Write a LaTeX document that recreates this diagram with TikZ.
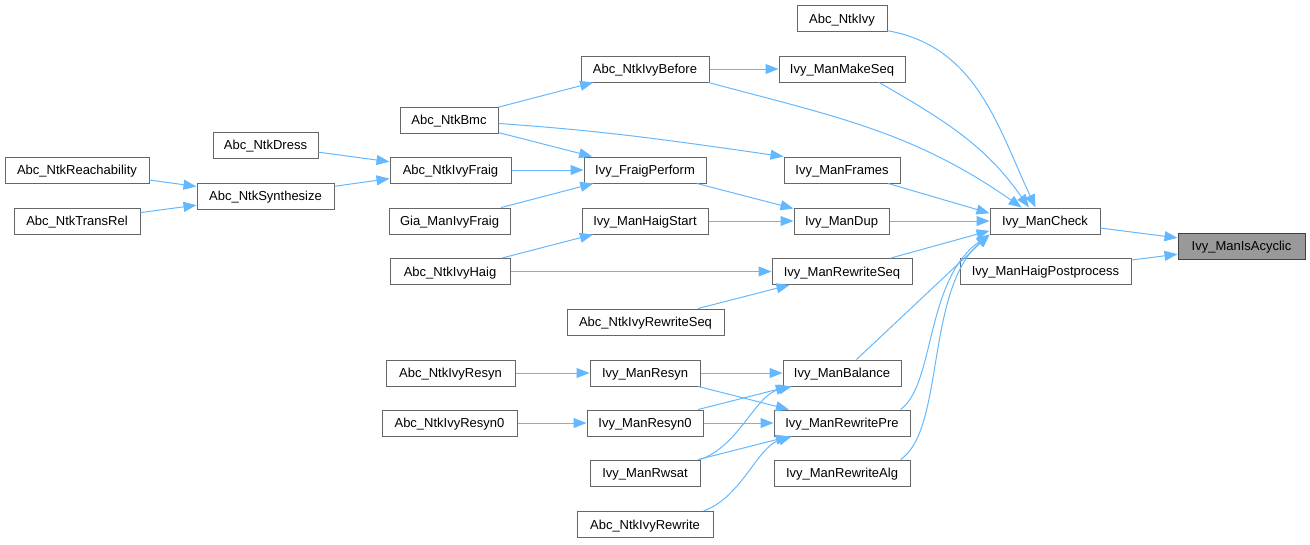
\documentclass[tikz,border=0pt]{standalone}
\usepackage{fontspec}
\setmainfont{Liberation Sans}
\usetikzlibrary{arrows.meta,calc}
\definecolor{callblue}{RGB}{99,184,255}
\definecolor{boxgray}{RGB}{102,102,102}
\definecolor{selgray}{RGB}{153,153,153}

\begin{document}
\begin{tikzpicture}[x=1pt, y=-1pt,
  fn/.style={draw=boxgray, fill=white, line width=1pt, minimum height=26pt,
    inner sep=0pt, text depth=0pt, font=\fontsize{13}{15}\selectfont},
  call/.style={draw=callblue, line width=1pt, -{Triangle[length=13pt,width=10pt]}}]

\useasboundingbox (0,0) rectangle (1310,544);

% Functions (name/x/y/width/label)
\foreach \n/\x/\y/\w/\t in {
  ivy/842/18.5/90/Abc\_NtkIvy,
  before/645/69/128/Abc\_NtkIvyBefore,
  makeseq/842/69/126/Ivy\_ManMakeSeq,
  bmc/449/120/98/Abc\_NtkBmc,
  dress/265.5/145/105/Abc\_NtkDress,
  ivyfraig/450.5/170/121/Abc\_NtkIvyFraig,
  fraigperf/645/170/122/Ivy\_FraigPerform,
  frames/842/170/116/Ivy\_ManFrames,
  reach/77/170/144/Abc\_NtkReachability,
  synth/265.5/196/137/Abc\_NtkSynthesize,
  transrel/77/221/126/Abc\_NtkTransRel,
  giafraig/449.5/221/121/Gia\_ManIvyFraig,
  haigstart/645/221/126/Ivy\_ManHaigStart,
  dup/841.5/221/95/Ivy\_ManDup,
  check/1045/221/110/Ivy\_ManCheck,
  haigpost/1045.5/271/171/Ivy\_ManHaigPostprocess,
  ivyhaig/450/271.5/120/Abc\_NtkIvyHaig,
  rewseq/842/271.5/140/Ivy\_ManRewriteSeq,
  ivyrewseq/645.5/322/157/Abc\_NtkIvyRewriteSeq,
  ivyresyn/450.5/373/129/Abc\_NtkIvyResyn,
  resyn/645/373/110/Ivy\_ManResyn,
  balance/842/373/118/Ivy\_ManBalance,
  ivyresyn0/449.5/423/135/Abc\_NtkIvyResyn0,
  resyn0/645/423/116/Ivy\_ManResyn0,
  rewpre/842/423/136/Ivy\_ManRewritePre,
  rwsat/645/473/110/Ivy\_ManRwsat,
  rewalg/842/473/136/Ivy\_ManRewriteAlg,
  ivyrewrite/645/524.5/136/Abc\_NtkIvyRewrite}
  \node[fn, minimum width=\w] (\n) at (\x,\y) {\t};

% the selected function
\node[fn, fill=selgray, draw=black!75, minimum width=127] (acyclic) at (1241.5,246) {Ivy\_ManIsAcyclic};

% left part
\draw[call] (reach) -- (synth);
\draw[call] (transrel) -- (synth);
\draw[call] (synth) -- (ivyfraig);
\draw[call] (dress) -- (ivyfraig);
\draw[call] (ivyfraig) -- (fraigperf);
\draw[call] (giafraig) -- (fraigperf);
\draw[call] (bmc) -- (fraigperf);
\draw[call] (bmc) -- (before);
\draw[call] (bmc.-4) to[out=-4, in=172] (frames.north west);
\draw[call] (before) -- (makeseq);
\draw[call] (fraigperf) -- (dup);
\draw[call] (haigstart) -- (dup);
\draw[call] (ivyhaig) -- (haigstart);
\draw[call] (ivyhaig) -- (rewseq);
\draw[call] (ivyrewseq) -- (rewseq);

% resyn part
\draw[call] (ivyresyn) -- (resyn);
\draw[call] (ivyresyn0) -- (resyn0);
\draw[call] (resyn) -- (balance);
\draw[call] (resyn) -- (rewpre);
\draw[call] (resyn0) -- (balance);
\draw[call] (resyn0) -- (rewpre);
\draw[call] (rwsat) -- (rewpre);
\draw[call] (rwsat.north east) .. controls (740,445) and (755,395) .. (balance.195);
\draw[call] (ivyrewrite.13) .. controls (742,497) and (757,447) .. (rewpre.195);

% into Ivy_ManCheck
\draw[call] (ivy.-15) to[out=-10, in=115] (check.125);
\draw[call] (makeseq.-20) to[out=-30, in=125] (check.140);
\draw[call] (before.-12) to[out=-15, in=145] (check.150);
\draw[call] (frames) -- (check.172);
\draw[call] (dup) -- (check);
\draw[call] (rewseq) -- (check.190);
\draw[call] (balance.43) -- (check.south west);
\draw[call] (rewpre.13) .. controls (935,385) and (925,280) .. (check.south west);
\draw[call] (rewalg.13) .. controls (945,430) and (925,290) .. (check.south west);

% into Ivy_ManIsAcyclic
\draw[call] (check) -- (acyclic);
\draw[call] (haigpost) -- (acyclic);

\end{tikzpicture}
\end{document}
